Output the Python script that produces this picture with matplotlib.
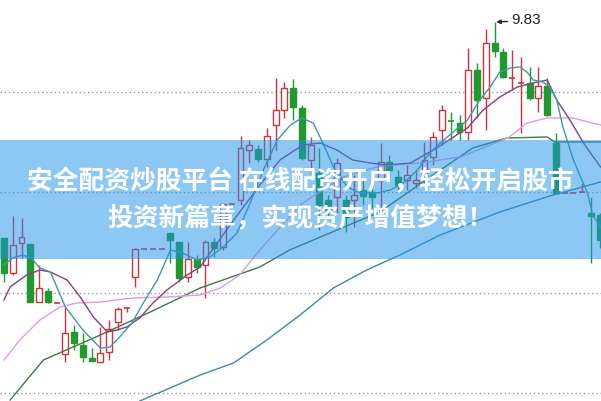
import matplotlib
matplotlib.use("Agg")
import matplotlib.pyplot as plt
import numpy as np

# ---------------- data (prices) ----------------
opens = [7.67, 7.32, 7.62, 7.61, 7.03, 7.14, 7.02, 6.51, 6.73, 6.60,
         6.47, 6.43, 6.53, 6.83, 6.97, 7.28, 7.56, 7.56, 7.56, 7.72,
         7.63, 7.28, 7.46, 7.40, 7.63, 7.58, 8.01, 8.05, 8.55, 8.56,
         8.46, 8.80, 8.95, 9.17, 8.97, 8.45, 8.32, 8.05, 8.08, 8.05,
         8.05, 8.15, 8.13, 8.25, 8.43, 8.28, 8.25, 8.22, 8.28, 8.48,
         8.75, 8.845, 8.82, 8.73, 9.35, 9.07, 9.62, 9.53, 9.27, 9.22,
         9.22, 9.07, 9.19, 8.62, 8.12, 8.12, 8.13, 7.92, 7.90]
highs = [7.67, 7.89, 7.87, 7.61, 7.40, 7.17, 7.02, 6.98, 6.80, 6.72,
         6.57, 6.78, 6.85, 6.98, 6.97, 7.57, 7.56, 7.56, 7.56, 7.72,
         7.63, 7.63, 7.50, 7.65, 7.67, 8.01, 8.01, 8.69, 8.65, 8.60,
         8.77, 9.27, 9.23, 9.26, 9.00, 8.68, 8.57, 8.10, 8.47, 8.10,
         8.30, 8.25, 8.20, 8.62, 8.50, 8.35, 8.40, 8.35, 8.63, 8.73,
         9.00, 8.93, 8.90, 9.57, 9.42, 9.76, 9.83, 9.57, 9.55, 9.48,
         9.38, 9.38, 9.27, 8.72, 8.12, 8.12, 8.22, 8.08, 7.92]
lows = [7.23, 7.30, 7.47, 7.03, 7.03, 7.02, 7.02, 6.43, 6.55, 6.43,
        6.44, 6.43, 6.45, 6.75, 6.93, 7.18, 7.56, 7.56, 7.56, 7.42,
        7.23, 7.23, 7.32, 7.07, 7.48, 7.55, 8.01, 8.00, 8.42, 8.43,
        8.38, 8.55, 8.87, 8.85, 8.45, 8.30, 7.75, 7.88, 7.92, 7.73,
        7.78, 8.00, 7.97, 7.95, 8.27, 8.15, 8.15, 8.17, 8.20, 8.40,
        8.60, 8.65, 8.65, 8.65, 8.87, 8.75, 9.48, 9.27, 9.15, 8.72,
        9.05, 8.93, 8.89, 8.11, 8.12, 8.12, 8.13, 7.42, 7.57]
closes = [7.32, 7.60, 7.68, 7.03, 7.17, 7.03, 7.02, 6.72, 6.62, 6.48,
          6.44, 6.52, 6.76, 6.96, 6.97, 7.56, 7.56, 7.56, 7.56, 7.65,
          7.27, 7.46, 7.38, 7.63, 7.57, 8.01, 8.01, 8.57, 8.60, 8.46,
          8.69, 8.95, 9.17, 8.98, 8.47, 8.60, 8.00, 7.95, 8.42, 7.88,
          8.10, 8.09, 8.08, 8.43, 8.35, 8.20, 8.30, 8.25, 8.45, 8.68,
          8.95, 8.84, 8.73, 9.35, 9.05, 9.62, 9.54, 9.28, 9.27, 9.22,
          9.07, 9.19, 8.90, 8.12, 8.12, 8.12, 8.13, 7.89, 7.65]

ma5_x = [0, 1.0, 2.1, 3.1, 4.1, 5.3, 7.0, 9.0, 11.0, 12.1, 13.2, 14.6, 15.9,
         17.5, 19.0, 20.4, 22.0, 23.5, 25.0, 26.6, 28.1, 29.6, 31.2, 32.7,
         34.0, 35.3, 36.4, 37.6, 39.2, 40.6, 42.6, 44.1, 45.6, 47.2, 48.6,
         49.8, 52.9, 54.3, 55.5, 56.6, 57.8, 58.9, 59.7, 60.4, 61.5, 62.3,
         63.1, 63.8, 65.0, 66.6, 67.2, 68.1]
ma5_y = [7.40, 7.47, 7.50, 7.47, 7.37, 7.33, 6.98, 6.75, 6.57, 6.58, 6.68,
         6.82, 7.02, 7.25, 7.55, 7.52, 7.45, 7.48, 7.58, 7.72, 8.02, 8.35,
         8.65, 8.80, 8.87, 8.82, 8.62, 8.38, 8.18, 8.12, 8.12, 8.15, 8.22,
         8.35, 8.52, 8.62, 8.85, 9.05, 9.18, 9.33, 9.37, 9.38, 9.33, 9.25,
         9.23, 9.18, 9.05, 8.78, 8.45, 8.12, 7.90, 7.78]

ma10_x = [0, 0.7, 2.6, 4.1, 5.3, 7.2, 8.7, 10.2, 11.8, 12.9, 14.0, 15.5,
          17.0, 18.6, 20.9, 22.4, 25.8, 29.2, 31.5, 34.1, 36.1, 38.0, 39.8,
          41.8, 43.7, 46.4, 49.4, 52.9, 54.7, 56.6, 58.6, 60.4, 62.0, 63.1,
          64.6, 66.3, 68.1]
ma10_y = [7.05, 7.18, 7.30, 7.35, 7.33, 7.25, 7.08, 6.88, 6.73, 6.75, 6.78,
          6.87, 7.02, 7.15, 7.30, 7.38, 7.80, 8.20, 8.45, 8.60, 8.62, 8.55,
          8.45, 8.42, 8.40, 8.42, 8.57, 8.77, 8.95, 9.08, 9.18, 9.22, 9.25,
          9.05, 8.85, 8.60, 8.38]

ma20_x = [0, 1.8, 4.1, 6.4, 8.3, 11.0, 14.7, 18.6, 22.4, 24.7, 26.9, 29.2,
          33.8, 38.4, 42.9, 47.5, 52.1, 55.5, 57.7, 59.7, 62.0, 64.9, 68.1]
ma20_y = [6.45, 6.65, 6.85, 6.98, 7.02, 7.03, 7.07, 7.08, 7.10, 7.17, 7.30,
          7.55, 8.00, 8.27, 8.39, 8.42, 8.48, 8.60, 8.68, 8.82, 8.87, 8.87,
          8.80]

ma60_x = [0.7, 4.5, 11.0, 16.7, 22.4, 29.2, 32.6, 37.2, 42.9, 49.8, 53.5,
          57.4, 62.0, 62.9, 68.1]
ma60_y = [6.05, 6.45, 6.70, 6.93, 7.17, 7.38, 7.55, 7.72, 7.93, 8.35, 8.57,
          8.67, 8.68, 8.63, 8.63]

ma120_x = [15.5, 22.4, 26.2, 30.0, 33.8, 37.6, 41.4, 45.2, 49.8, 56.6, 62.3,
           68.1]
ma120_y = [6.04, 6.30, 6.42, 6.65, 6.90, 7.17, 7.35, 7.50, 7.70, 7.93, 8.09,
           8.23]

grid_levels = [9.13, 8.13, 7.12, 6.12]
peak_label = "9.83"
banner_line1 = "安全配资炒股平台 在线配资开户，轻松开启股市"
banner_line2 = "投资新篇章，实现资产增值梦想！"

# ---------------- drawing ----------------
fig = plt.figure(figsize=(6.01, 4.01), dpi=100)
ax = fig.add_axes([0, 0, 1, 1])
ax.set_xlim(-4 / 8.76, 597 / 8.76)
ax.set_ylim(6.04, 10.05)
ax.axis("off")

for g in grid_levels:
    ax.axhline(g, color="#9a9a9a", lw=1, ls=(0, (1, 2)), zorder=1)

UP = "#d2323c"
DOWN = "#1f9a2f"
W = 0.68
idx = np.arange(len(opens))
for i in idx:
    o, h, l, c = opens[i], highs[i], lows[i], closes[i]
    up = c >= o
    col = UP if up else DOWN
    ax.vlines(i, l, h, color=col, lw=1, zorder=2)
    if abs(c - o) < 0.015:
        ax.hlines((o + c) / 2, i - W / 2, i + W / 2, color=col, lw=1.2, zorder=3)
    elif up:
        ax.bar(i, c - o, bottom=o, width=W, facecolor="white",
               edgecolor=col, lw=1, zorder=3)
    else:
        ax.bar(i, o - c, bottom=c, width=W, facecolor=col,
               edgecolor=col, lw=1, zorder=3)

ax.plot(ma120_x, ma120_y, color="#3a8ab2", lw=1, zorder=4)
ax.plot(ma60_x, ma60_y, color="#3c7a44", lw=1, zorder=4)
ax.plot(ma20_x, ma20_y, color="#e39ae3", lw=1, zorder=4)
ax.plot(ma10_x, ma10_y, color="#8a3e86", lw=1, zorder=4)
ax.plot(ma5_x, ma5_y, color="#3f9aa6", lw=1, zorder=4)

pk = int(np.argmax(highs))
ax.annotate(peak_label, xy=(pk + 0.2, highs[pk]), xytext=(pk + 1.95, highs[pk] + 0.015),
            ha="left", va="center", fontsize=11, color="#222222",
            family="Liberation Sans",
            arrowprops=dict(arrowstyle="-|>", color="#222222", lw=1,
                            mutation_scale=6, shrinkA=1, shrinkB=0),
            zorder=5)

# translucent banner
ax.axhspan(10.05 - 2.59, 10.05 - 1.40, color=(29 / 255, 147 / 255, 235 / 255),
           alpha=0.5, lw=0, zorder=6)

fig.text(0.5, 1 - 182 / 401, banner_line1, ha="center", va="center",
         fontsize=18.5, fontweight="bold", color="white",
         family=["Noto Sans CJK SC", "DejaVu Sans"], zorder=7)
fig.text(0.5, 1 - 218 / 401, banner_line2, ha="center", va="center",
         fontsize=18.5, fontweight="bold", color="white",
         family=["Noto Sans CJK SC", "DejaVu Sans"], zorder=7)

fig.savefig("out.png", dpi=100)
